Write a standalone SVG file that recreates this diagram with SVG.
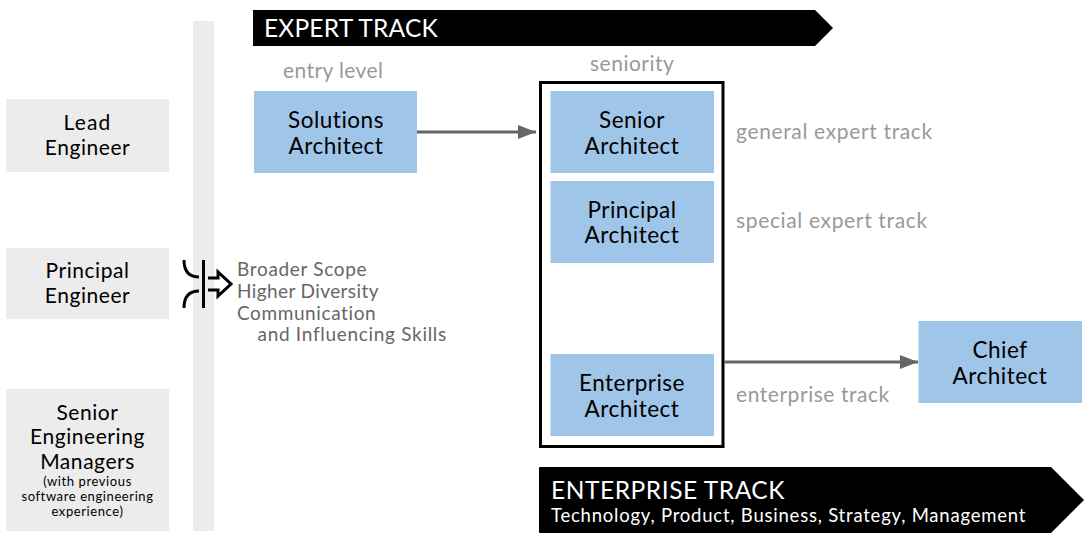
<svg xmlns="http://www.w3.org/2000/svg" width="1089" height="546" viewBox="0 0 1089 546">
<style>
text{font-family:"Lato","Noto Sans",sans-serif}
.b{fill:#9fc5e8}
.g{fill:#ececec}
.t{font-size:22.5px;fill:#000;text-anchor:middle;letter-spacing:.5px}
.e{font-size:21px;fill:#000;text-anchor:middle;letter-spacing:.55px}
.l{font-size:21px;fill:#999;letter-spacing:.5px}
.s{font-size:13px;fill:#000;text-anchor:middle;letter-spacing:.6px}
.d{font-size:19px;fill:#666;letter-spacing:.6px}
.w{fill:#fff}
.c{stroke:#666;stroke-width:3;fill:none}
</style>
<defs><marker id="a" markerUnits="userSpaceOnUse" markerWidth="18" markerHeight="14" refX="18" refY="7" orient="auto"><path d="M0 0L18 7L0 14Z" fill="#666"/></marker></defs>
<rect x="193" y="21" width="21" height="510" class="g"/>
<g id="lead-engineer"><rect class="g" x="6" y="99" width="163" height="73"/><text class="e" x="87.500" y="130" style="letter-spacing:1.2px">Lead</text><text class="e" x="87.500" y="155">Engineer</text></g>
<g id="principal-engineer"><rect class="g" x="6" y="248" width="163" height="71"/><text class="e" x="87.500" y="278">Principal</text><text class="e" x="87.500" y="303">Engineer</text></g>
<g id="senior-managers"><rect class="g" x="6" y="389" width="163" height="142"/><text class="e" x="87.500" y="420">Senior</text><text class="e" x="87.500" y="444">Engineering</text><text class="e" x="87.500" y="469">Managers</text><text class="s" x="87.500" y="486">(with previous</text><text class="s" x="87.500" y="501">software engineering</text><text class="s" x="87.500" y="516">experience)</text></g>
<g id="expert-track"><path d="M253 10H815L833 28L815 46H253Z" fill="#000"/><text x="264" y="37" font-size="24.500" letter-spacing=".2" class="w">EXPERT TRACK</text></g>
<g id="enterprise-track"><path d="M540 467Q539 467 539 468V532Q539 533 540 533H1051L1084 500L1051 467Z" fill="#000"/><text x="551" y="499" font-size="24.500" letter-spacing=".55" class="w">ENTERPRISE TRACK</text><text x="551" y="522" font-size="18.500" letter-spacing=".78" class="w">Technology, Product, Business, Strategy, Management</text></g>
<text class="l" x="283" y="78" style="letter-spacing:.4px">entry level</text>
<text class="l" x="590" y="71">seniority</text>
<text class="l" x="736" y="139" style="letter-spacing:.65px">general expert track</text>
<text class="l" x="736" y="228" style="letter-spacing:.65px">special expert track</text>
<text class="l" x="736" y="402" style="letter-spacing:.55px">enterprise track</text>
<g id="seniority-box"><rect x="540.500" y="82.500" width="182.500" height="364" fill="#fff" stroke="#000" stroke-width="3"/></g>
<g id="solutions-architect"><rect class="b" x="254" y="91" width="163" height="82"/><text class="t" x="336" y="127.500">Solutions</text><text class="t" x="336" y="153.500">Architect</text></g>
<g id="senior-architect"><rect class="b" x="550.500" y="91" width="163.500" height="82"/><text class="t" x="632" y="127.500">Senior</text><text class="t" x="632" y="153.500">Architect</text></g>
<g id="principal-architect"><rect class="b" x="550.500" y="181" width="163.500" height="82"/><text class="t" x="632" y="217.500">Principal</text><text class="t" x="632" y="242.500">Architect</text></g>
<g id="enterprise-architect"><rect class="b" x="550.500" y="354" width="163.500" height="82"/><text class="t" x="632" y="390.500">Enterprise</text><text class="t" x="632" y="416.500">Architect</text></g>
<g id="chief-architect"><rect class="b" x="918.500" y="321" width="163.500" height="82"/><text class="t" x="1000" y="357.500">Chief</text><text class="t" x="1000" y="383.500">Architect</text></g>
<g id="connectors"><path class="c" d="M417 132H536" marker-end="url(#a)"/><path class="c" d="M724 362H918" marker-end="url(#a)"/></g>
<g id="skills-icon" fill="none" stroke="#000" stroke-width="3"><path d="M184 260C184 272 190 277 199 277M184 308C184 296 190 291 199 291M203.500 260V308M208 278H218V272L231 284L218 296V290H208"/></g>
<g id="skills"><text class="d" x="237" y="275.500" style="letter-spacing:.68px">Broader Scope</text><text class="d" x="237" y="297.500" style="letter-spacing:.4px">Higher Diversity</text><text class="d" x="237" y="319.500">Communication</text><text class="d" x="257.500" y="340.500" style="letter-spacing:.7px">and Influencing Skills</text></g>
</svg>
